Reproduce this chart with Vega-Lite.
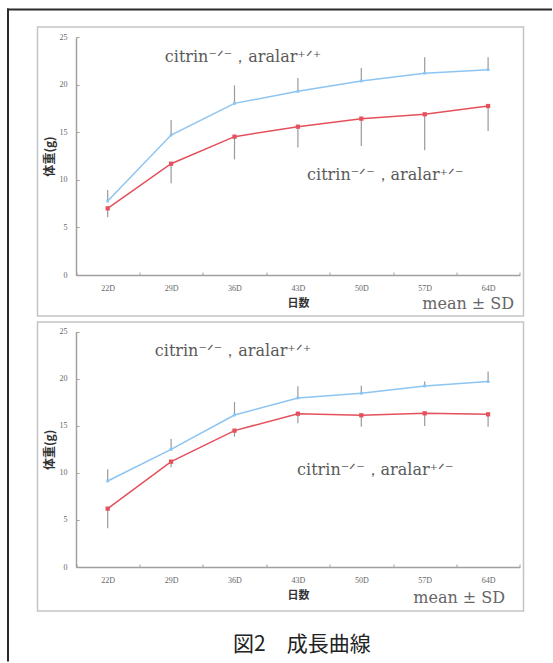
{
  "$schema": "https://vega.github.io/schema/vega-lite/v6.json",
  "padding": {"left": 6.5, "top": 8, "right": 0, "bottom": 0},
  "background": "white",
  "config": {"font": "Noto Sans CJK JP", "view": {"stroke": "#c4c4c4", "strokeWidth": 1.5}},
  "datasets": {
    "top": [
      {"day": "22D", "group": "aralar+/+", "mean": 7.77, "errEnd": 8.93},
      {"day": "29D", "group": "aralar+/+", "mean": 14.7, "errEnd": 16.28},
      {"day": "36D", "group": "aralar+/+", "mean": 18.03, "errEnd": 19.92},
      {"day": "43D", "group": "aralar+/+", "mean": 19.29, "errEnd": 20.69},
      {"day": "50D", "group": "aralar+/+", "mean": 20.38, "errEnd": 21.74},
      {"day": "57D", "group": "aralar+/+", "mean": 21.2, "errEnd": 22.86},
      {"day": "64D", "group": "aralar+/+", "mean": 21.57, "errEnd": 22.86},
      {"day": "22D", "group": "aralar+/-", "mean": 7.0, "errEnd": 6.06},
      {"day": "29D", "group": "aralar+/-", "mean": 11.69, "errEnd": 9.63},
      {"day": "36D", "group": "aralar+/-", "mean": 14.53, "errEnd": 12.15},
      {"day": "43D", "group": "aralar+/-", "mean": 15.58, "errEnd": 13.38},
      {"day": "50D", "group": "aralar+/-", "mean": 16.42, "errEnd": 13.55},
      {"day": "57D", "group": "aralar+/-", "mean": 16.88, "errEnd": 13.1},
      {"day": "64D", "group": "aralar+/-", "mean": 17.75, "errEnd": 15.13}
    ],
    "bottom": [
      {"day": "22D", "group": "aralar+/+", "mean": 9.14, "errEnd": 10.38},
      {"day": "29D", "group": "aralar+/+", "mean": 12.5, "errEnd": 13.6},
      {"day": "36D", "group": "aralar+/+", "mean": 16.15, "errEnd": 17.53},
      {"day": "43D", "group": "aralar+/+", "mean": 17.96, "errEnd": 19.2},
      {"day": "50D", "group": "aralar+/+", "mean": 18.46, "errEnd": 19.27},
      {"day": "57D", "group": "aralar+/+", "mean": 19.23, "errEnd": 19.7},
      {"day": "64D", "group": "aralar+/+", "mean": 19.7, "errEnd": 20.76},
      {"day": "22D", "group": "aralar+/-", "mean": 6.2, "errEnd": 4.11},
      {"day": "29D", "group": "aralar+/-", "mean": 11.19, "errEnd": 10.59},
      {"day": "36D", "group": "aralar+/-", "mean": 14.49, "errEnd": 13.85},
      {"day": "43D", "group": "aralar+/-", "mean": 16.29, "errEnd": 15.27},
      {"day": "50D", "group": "aralar+/-", "mean": 16.12, "errEnd": 14.91},
      {"day": "57D", "group": "aralar+/-", "mean": 16.33, "errEnd": 14.98},
      {"day": "64D", "group": "aralar+/-", "mean": 16.22, "errEnd": 14.91}
    ]
  },
  "spacing": 6,
  "bounds": "flush",
  "vconcat": [
    {
      "width": 486,
      "height": 289,
      "resolve": {"scale": {"x": "independent", "y": "independent"}, "axis": {"x": "independent", "y": "independent"}},
      "layer": [
        {
          "layer": [
            {
              "data": {"name": "top"},
              "mark": {"type": "rule", "color": "#9a9a9a", "strokeWidth": 1.2},
              "encoding": {
                "x": {"field": "day", "type": "ordinal",
                  "scale": {"type": "band", "domain": ["22D", "29D", "36D", "43D", "50D", "57D", "64D"], "range": [38.5, 482.3], "paddingInner": 0, "paddingOuter": 0},
                  "axis": {"title": "日数", "orient": "bottom", "offset": -41, "tickBand": "extent", "labelAngle": 0,
                    "domainColor": "#a0a0a0", "domainWidth": 1.5, "tickColor": "#a0a0a0", "tickSize": -3, "labelPadding": 12,
                    "labelFont": "Liberation Sans Narrow", "labelFontSize": 8, "labelColor": "#666",
                    "titleFont": "Noto Sans CJK JP", "titleFontSize": 11, "titleFontWeight": "bold", "titleColor": "#333", "titlePadding": 5}},
                "y": {"field": "mean", "type": "quantitative",
                  "scale": {"domain": [0, 25], "range": [248, 10], "nice": false},
                  "axis": {"title": "体重(g)", "orient": "left", "offset": -38.5, "values": [0, 5, 10, 15, 20, 25], "grid": false,
                    "domainColor": "#a0a0a0", "domainWidth": 1.5, "tickColor": "#a0a0a0", "tickSize": -3, "labelPadding": 12,
                    "labelFont": "Liberation Sans Narrow", "labelFontSize": 8, "labelColor": "#666",
                    "titleFont": "Noto Sans CJK JP", "titleFontSize": 12, "titleFontWeight": "bold", "titleColor": "#333", "titlePadding": 3}},
                "y2": {"field": "errEnd"}
              }
            },
            {
              "data": {"name": "top"},
              "mark": {"type": "line", "strokeWidth": 1.5},
              "encoding": {
                "x": {"field": "day", "type": "ordinal"},
                "y": {"field": "mean", "type": "quantitative"},
                "color": {"field": "group", "type": "nominal", "scale": {"domain": ["aralar+/+", "aralar+/-"], "range": ["#8cc4f2", "#e4505c"]}, "legend": null}
              }
            },
            {
              "data": {"name": "top"},
              "mark": {"type": "point", "shape": "square", "filled": true, "opacity": 1},
              "encoding": {
                "x": {"field": "day", "type": "ordinal"},
                "y": {"field": "mean", "type": "quantitative"},
                "color": {"field": "group", "type": "nominal", "scale": {"domain": ["aralar+/+", "aralar+/-"], "range": ["#7ab8ee", "#dc2838"]}, "legend": null},
                "size": {"field": "group", "type": "nominal", "scale": {"domain": ["aralar+/+", "aralar+/-"], "range": [8, 18]}, "legend": null}
              }
            },
            {
              "data": {"values": [{"day": "36D", "y": 22.9, "label": "citrin⁻ᐟ⁻，aralar⁺ᐟ⁺"}]},
              "mark": {"type": "text", "font": "DejaVu Serif, serif", "fontSize": 16, "color": "#5a5a5a", "align": "center", "baseline": "middle", "dx": 8.5},
              "encoding": {"x": {"field": "day", "type": "ordinal"}, "y": {"field": "y", "type": "quantitative"}, "text": {"field": "label"}}
            },
            {
              "data": {"values": [{"day": "50D", "y": 10.5, "label": "citrin⁻ᐟ⁻，aralar⁺ᐟ⁻"}]},
              "mark": {"type": "text", "font": "DejaVu Serif, serif", "fontSize": 16, "color": "#5a5a5a", "align": "center", "baseline": "middle", "dx": 24},
              "encoding": {"x": {"field": "day", "type": "ordinal"}, "y": {"field": "y", "type": "quantitative"}, "text": {"field": "label"}}
            },
            {
              "data": {"values": [{"day": "64D", "y": -3.05, "label": "mean ± SD"}]},
              "mark": {"type": "text", "font": "DejaVu Serif, serif", "fontSize": 16, "color": "#666", "align": "right", "baseline": "middle", "dx": 26},
              "encoding": {"x": {"field": "day", "type": "ordinal"}, "y": {"field": "y", "type": "quantitative"}, "text": {"field": "label"}}
            }
          ]
        },
        {
          "data": {"values": [{"f": 0}]},
          "mark": {"type": "point", "opacity": 0, "size": 1},
          "encoding": {
            "x": {"field": "f", "type": "quantitative", "scale": {"domain": [-1, 1], "range": [-31, 514]},
              "axis": {"orient": "top", "offset": 18, "domainColor": "#2a2a2a", "domainWidth": 2, "ticks": false, "labels": false, "grid": false, "title": null}},
            "y": {"field": "f", "type": "quantitative", "scale": {"domain": [-1, 1], "range": [-19, 296]},
              "axis": {"orient": "left", "offset": 30, "domainColor": "#2a2a2a", "domainWidth": 2, "ticks": false, "labels": false, "grid": false, "title": null}}
          }
        }
      ]
    },
    {
      "width": 486,
      "height": 289,
      "resolve": {"scale": {"x": "independent", "y": "independent"}, "axis": {"x": "independent", "y": "independent"}},
      "layer": [
        {
          "layer": [
            {
              "data": {"name": "bottom"},
              "mark": {"type": "rule", "color": "#9a9a9a", "strokeWidth": 1.2},
              "encoding": {
                "x": {"field": "day", "type": "ordinal",
                  "scale": {"type": "band", "domain": ["22D", "29D", "36D", "43D", "50D", "57D", "64D"], "range": [38.5, 482.3], "paddingInner": 0, "paddingOuter": 0},
                  "axis": {"title": "日数", "orient": "bottom", "offset": -44, "tickBand": "extent", "labelAngle": 0,
                    "domainColor": "#a0a0a0", "domainWidth": 1.5, "tickColor": "#a0a0a0", "tickSize": -3, "labelPadding": 12,
                    "labelFont": "Liberation Sans Narrow", "labelFontSize": 8, "labelColor": "#666",
                    "titleFont": "Noto Sans CJK JP", "titleFontSize": 11, "titleFontWeight": "bold", "titleColor": "#333", "titlePadding": 5}},
                "y": {"field": "mean", "type": "quantitative",
                  "scale": {"domain": [0, 25], "range": [245, 9.7], "nice": false},
                  "axis": {"title": "体重(g)", "orient": "left", "offset": -38.5, "values": [0, 5, 10, 15, 20, 25], "grid": false,
                    "domainColor": "#a0a0a0", "domainWidth": 1.5, "tickColor": "#a0a0a0", "tickSize": -3, "labelPadding": 12,
                    "labelFont": "Liberation Sans Narrow", "labelFontSize": 8, "labelColor": "#666",
                    "titleFont": "Noto Sans CJK JP", "titleFontSize": 12, "titleFontWeight": "bold", "titleColor": "#333", "titlePadding": 3}},
                "y2": {"field": "errEnd"}
              }
            },
            {
              "data": {"name": "bottom"},
              "mark": {"type": "line", "strokeWidth": 1.5},
              "encoding": {
                "x": {"field": "day", "type": "ordinal"},
                "y": {"field": "mean", "type": "quantitative"},
                "color": {"field": "group", "type": "nominal", "scale": {"domain": ["aralar+/+", "aralar+/-"], "range": ["#8cc4f2", "#e4505c"]}, "legend": null}
              }
            },
            {
              "data": {"name": "bottom"},
              "mark": {"type": "point", "shape": "square", "filled": true, "opacity": 1},
              "encoding": {
                "x": {"field": "day", "type": "ordinal"},
                "y": {"field": "mean", "type": "quantitative"},
                "color": {"field": "group", "type": "nominal", "scale": {"domain": ["aralar+/+", "aralar+/-"], "range": ["#7ab8ee", "#dc2838"]}, "legend": null},
                "size": {"field": "group", "type": "nominal", "scale": {"domain": ["aralar+/+", "aralar+/-"], "range": [8, 18]}, "legend": null}
              }
            },
            {
              "data": {"values": [{"day": "36D", "y": 22.9, "label": "citrin⁻ᐟ⁻，aralar⁺ᐟ⁺"}]},
              "mark": {"type": "text", "font": "DejaVu Serif, serif", "fontSize": 16, "color": "#5a5a5a", "align": "center", "baseline": "middle", "dx": -1.5},
              "encoding": {"x": {"field": "day", "type": "ordinal"}, "y": {"field": "y", "type": "quantitative"}, "text": {"field": "label"}}
            },
            {
              "data": {"values": [{"day": "50D", "y": 10.3, "label": "citrin⁻ᐟ⁻，aralar⁺ᐟ⁻"}]},
              "mark": {"type": "text", "font": "DejaVu Serif, serif", "fontSize": 16, "color": "#5a5a5a", "align": "center", "baseline": "middle", "dx": 14},
              "encoding": {"x": {"field": "day", "type": "ordinal"}, "y": {"field": "y", "type": "quantitative"}, "text": {"field": "label"}}
            },
            {
              "data": {"values": [{"day": "64D", "y": -3.3, "label": "mean ± SD"}]},
              "mark": {"type": "text", "font": "DejaVu Serif, serif", "fontSize": 16, "color": "#666", "align": "right", "baseline": "middle", "dx": 17},
              "encoding": {"x": {"field": "day", "type": "ordinal"}, "y": {"field": "y", "type": "quantitative"}, "text": {"field": "label"}}
            },
            {
              "data": {"values": [{"day": "43D", "y": -8.3, "label": "図2　成長曲線"}]},
              "mark": {"type": "text", "font": "Noto Sans CJK JP", "fontSize": 21, "color": "#222", "align": "center", "baseline": "middle", "dx": 4},
              "encoding": {"x": {"field": "day", "type": "ordinal"}, "y": {"field": "y", "type": "quantitative"}, "text": {"field": "label"}}
            }
          ]
        },
        {
          "data": {"values": [{"f": 0}]},
          "mark": {"type": "point", "opacity": 0, "size": 1},
          "encoding": {
            "y": {"field": "f", "type": "quantitative", "scale": {"domain": [-1, 1], "range": [-8, 339]},
              "axis": {"orient": "left", "offset": 30, "domainColor": "#2a2a2a", "domainWidth": 2, "ticks": false, "labels": false, "grid": false, "title": null}}
          }
        }
      ]
    }
  ]
}
